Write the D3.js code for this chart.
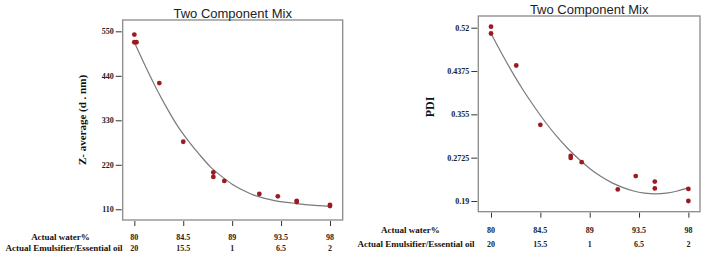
<!DOCTYPE html>
<html><head><meta charset="utf-8">
<script src="https://cdn.jsdelivr.net/npm/d3@7"></script>
<style>
body{margin:0;background:#fff;}
svg{display:block;}
</style></head>
<body><svg id="c" width="709" height="259"></svg>
<script>
// ---- data ----
const chartTitle = "Two Component Mix";
const xTicks = [80, 84.5, 89, 93.5, 98];
const xTickLabelsWater = ["80", "84.5", "89", "93.5", "98"];
const xTickLabelsEmul = ["20", "15.5", "1", "6.5", "2"];
const rowLabels = ["Actual water%", "Actual Emulsifier/Essential oil"];

const zTicks = [110, 220, 330, 440, 550];
const zPointsX = [80, 80, 80.2, 82.3, 84.5, 87.27, 87.27, 88.28, 91.5, 93.2, 94.94, 94.94, 98, 98];
const zPointsY = [542, 523, 523, 422, 277, 201, 190, 180, 148, 142, 131, 128, 121, 118];
const zCurveX = [80, 81, 82, 83, 84, 85, 86, 87, 88, 89, 90, 91, 92, 93, 94, 95, 96, 97, 98];
const zCurveY = [523, 465, 410, 360, 315, 278, 245, 215, 192, 172, 157, 145, 137, 131, 127, 124, 121, 119, 117];

const pdiTicks = [0.19, 0.2725, 0.355, 0.4375, 0.52];
const pdiPointsX = [80, 80, 82.3, 84.5, 87.27, 87.27, 88.27, 91.56, 93.2, 94.94, 94.94, 98, 98];
const pdiPointsY = [0.522, 0.509, 0.448, 0.335, 0.276, 0.272, 0.264, 0.212, 0.2375, 0.227, 0.214, 0.213, 0.190];
const pdiCurveX = [80, 81, 82, 83, 84, 85, 86, 87, 88, 89, 90, 91, 92, 93, 94, 95, 96, 97, 98];
const pdiCurveY = [0.509, 0.470, 0.433, 0.399, 0.368, 0.339, 0.313, 0.290, 0.270, 0.252, 0.237, 0.225, 0.216, 0.209, 0.205, 0.2035, 0.205, 0.209, 0.2155];

const svg = d3.select("#c");
const serif = "'Liberation Serif','Times New Roman',serif";
const sans = "'Liberation Sans',Arial,sans-serif";

function panel(cfg) {
  const g = svg.append("g");
  const x = d3.scaleLinear().domain(cfg.xDom).range([cfg.left, cfg.right]);
  const y = d3.scaleLinear().domain(cfg.yDom).range([cfg.bottom, cfg.top]);

  // frame
  g.append("rect").attr("x", cfg.left).attr("y", cfg.top)
    .attr("width", cfg.right - cfg.left).attr("height", cfg.bottom - cfg.top)
    .attr("fill", "none").attr("stroke", "#8a8a8a").attr("stroke-width", 1.3);

  // title
  g.append("text").attr("x", (cfg.left + cfg.right) / 2).attr("y", cfg.titleY)
    .attr("text-anchor", "middle").attr("font-family", sans).attr("font-size", 13)
    .attr("fill", "#222").text(chartTitle);

  // y axis
  const ya = g.append("g").attr("transform", `translate(${cfg.left - 1},0)`)
    .call(d3.axisLeft(y).tickValues(cfg.yTicks).tickSize(6).tickPadding(2).tickFormat(d3.format("")));
  ya.select(".domain").remove();
  ya.selectAll("line").attr("stroke", "#333");
  ya.selectAll("text").attr("font-family", serif).attr("font-size", 8).attr("font-weight", "bold").attr("fill", "#222");

  // x axis (ticks only, below frame)
  const xa = g.append("g").attr("transform", `translate(0,${cfg.bottom + 1})`)
    .call(d3.axisBottom(x).tickValues(xTicks).tickSize(5).tickFormat((d, i) => xTickLabelsWater[i]));
  xa.select(".domain").remove();
  xa.selectAll("line").attr("stroke", "#333");
  xa.selectAll("text").remove();
  xTicks.forEach((t, i) => {
    g.append("text").attr("x", x(t)).attr("y", cfg.row1Y).attr("text-anchor", "middle")
      .attr("font-family", serif).attr("font-size", 8).attr("font-weight", "bold").attr("fill", "#222")
      .text(xTickLabelsWater[i]);
    g.append("text").attr("x", x(t)).attr("y", cfg.row2Y).attr("text-anchor", "middle")
      .attr("font-family", serif).attr("font-size", 8).attr("font-weight", "bold").attr("fill", "#222")
      .text(xTickLabelsEmul[i]);
  });
  g.append("text").attr("x", cfg.rowLabelX1).attr("y", cfg.row1Y).attr("text-anchor", "middle")
    .attr("font-family", serif).attr("font-size", 9).attr("font-weight", "bold").attr("fill", "#111")
    .text(rowLabels[0]);
  g.append("text").attr("x", cfg.rowLabelX2).attr("y", cfg.row2Y).attr("text-anchor", "middle")
    .attr("font-family", serif).attr("font-size", 9).attr("font-weight", "bold").attr("fill", "#111")
    .text(rowLabels[1]);

  // y label
  g.append("text").attr("transform", `translate(${cfg.yLabelX},${cfg.yLabelY}) rotate(-90)`)
    .attr("text-anchor", "middle").attr("font-family", serif).attr("font-size", cfg.yLabelSize)
    .attr("font-weight", "bold").attr("fill", "#111").text(cfg.yLabel);

  // curve
  const line = d3.line().x(d => x(d[0])).y(d => y(d[1])).curve(d3.curveMonotoneX);
  g.append("path").datum(cfg.cx.map((v, i) => [v, cfg.cy[i]]))
    .attr("d", line).attr("fill", "none").attr("stroke", "#7a7a7a").attr("stroke-width", 1.2);

  // points
  g.selectAll("circle.p").data(cfg.px.map((v, i) => [v, cfg.py[i]])).enter()
    .append("circle").attr("cx", d => x(d[0])).attr("cy", d => y(d[1])).attr("r", 2.4)
    .attr("fill", "#9b1b22");
}

panel({
  left: 122.7, right: 342.7, top: 20, bottom: 220,
  xDom: [78.93, 99.17], yDom: [83.5, 578],
  yTicks: zTicks, titleY: 18,
  row1Y: 239.5, row2Y: 250.5, rowLabelX1: 60.5, rowLabelX2: 64,
  yLabel: "Z- average (d . nm)", yLabelX: 86, yLabelY: 120, yLabelSize: 11,
  px: zPointsX, py: zPointsY, cx: zCurveX, cy: zCurveY
});

panel({
  left: 478.3, right: 700, top: 16, bottom: 211.7,
  xDom: [78.84, 99.06], yDom: [0.1696, 0.5423],
  yTicks: pdiTicks, titleY: 14,
  row1Y: 233, row2Y: 247.3, rowLabelX1: 410.3, rowLabelX2: 416,
  yLabel: "PDI", yLabelX: 434, yLabelY: 107, yLabelSize: 12,
  px: pdiPointsX, py: pdiPointsY, cx: pdiCurveX, cy: pdiCurveY
});
</script></body></html>
